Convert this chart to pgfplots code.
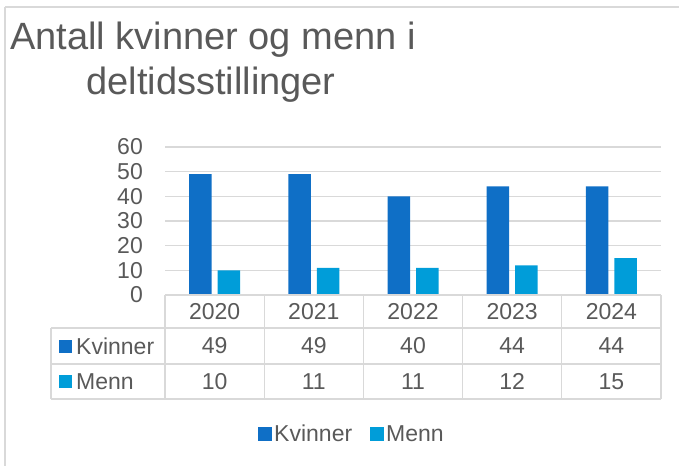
\documentclass[border=0pt]{standalone}
\usepackage{pgfplots}
\pgfplotsset{compat=1.18}
\usepackage{fontspec}
\setmainfont{Liberation Sans}
\definecolor{kv}{HTML}{0F6FC6}
\definecolor{me}{HTML}{009DD9}
\definecolor{txt}{HTML}{595959}
\definecolor{grd}{HTML}{D9D9D9}
\begin{document}
\begin{tikzpicture}[x=1pt,y=1pt]
\useasboundingbox (0,0) rectangle (679,-466);
\draw[grd, line width=1.5pt] (5,-7) -- (679,-7);
\draw[grd, line width=1.5pt] (5,-7) -- (5,-466);
\node[text=txt, font=\fontsize{38}{44}\selectfont, anchor=base, inner sep=0pt] at (213,-49) {Antall kvinner og menn i};
\node[text=txt, font=\fontsize{38}{44}\selectfont, anchor=base, inner sep=0pt] at (211,-94) {deltidsstillinger};
\begin{axis}[
  at={(165pt,-295pt)}, anchor=south west,
  scale only axis, width=496pt, height=148pt,
  xmin=-0.5, xmax=4.5, ymin=0, ymax=60,
  ytick={0,10,...,60}, xtick=\empty,
  ymajorgrids, grid style={grd, line width=1.2pt},
  axis line style={draw=none}, major tick length=0pt,
  ybar=6pt, bar width=22.5pt,
  tick label style={text=txt, font=\fontsize{23}{27}\selectfont},
  /pgf/number format/assume math mode=true,
  yticklabel style={inner sep=0pt, xshift=-22pt},
  clip=false,
  legend style={at={(0.377,-0.939)}, anchor=center, draw=none, fill=none,
    legend columns=2, font=\fontsize{23}{27}\selectfont, text=txt,
    /tikz/every even column/.append style={column sep=16pt}},
]
\addplot[fill=kv, draw=none, legend image code/.code={\fill[kv] (0pt,-7pt) rectangle (14pt,7pt);}]
  coordinates {(0,49) (1,49) (2,40) (3,44) (4,44)};
\addplot[fill=me, draw=none, legend image code/.code={\fill[me] (0pt,-7pt) rectangle (14pt,7pt);}]
  coordinates {(0,10) (1,11) (2,11) (3,12) (4,15)};
\legend{Kvinner, Menn}
\end{axis}
% data table
\begin{scope}[grd, line width=1.2pt]
\draw (165,-295) -- (661,-295);
\draw (51,-328) -- (661,-328);
\draw (51,-364) -- (661,-364);
\draw (51,-399) -- (661,-399);
\draw (51,-328) -- (51,-399);
\foreach \xx in {165,264.2,363.4,462.6,561.8,661} \draw (\xx,-295) -- (\xx,-399);
\end{scope}
\begin{scope}[every node/.style={text=txt, font=\fontsize{23}{27}\selectfont, inner sep=0pt}]
\foreach \v [count=\i from 0] in {2020,2021,2022,2023,2024}
  \node at ({214.6+99.2*\i},-311.5) {\v};
\foreach \v [count=\i from 0] in {49,49,40,44,44}
  \node at ({214.6+99.2*\i},-346) {\v};
\foreach \v [count=\i from 0] in {10,11,11,12,15}
  \node at ({214.6+99.2*\i},-381.5) {\v};
\fill[kv] (59,-340) rectangle (71.5,-352.5);
\fill[me] (59,-375) rectangle (71.5,-387.5);
\node[anchor=west] at (76,-346) {Kvinner};
\node[anchor=west] at (76,-381.5) {Menn};
\end{scope}
\end{tikzpicture}
\end{document}
